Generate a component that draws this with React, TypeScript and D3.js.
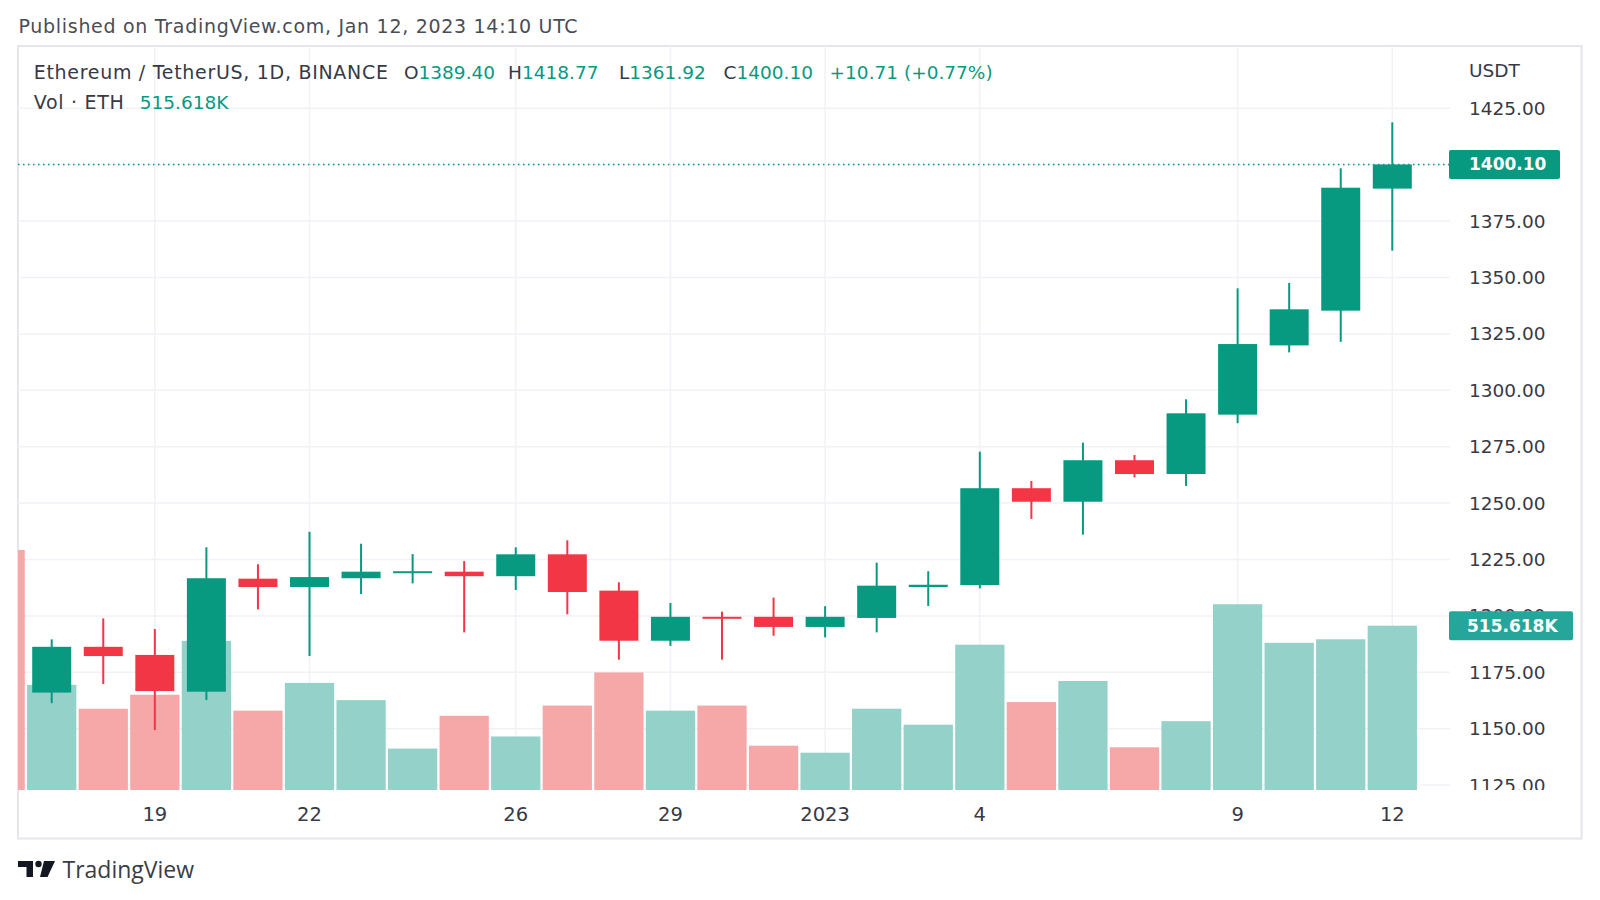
import React from 'react';
import * as d3 from 'd3';

// Daily ETH/USDT candles, Binance, Dec 17 2022 - Jan 12 2023
const dates = [
  '2022-12-17', '2022-12-18', '2022-12-19', '2022-12-20', '2022-12-21', '2022-12-22',
  '2022-12-23', '2022-12-24', '2022-12-25', '2022-12-26', '2022-12-27', '2022-12-28',
  '2022-12-29', '2022-12-30', '2022-12-31', '2023-01-01', '2023-01-02', '2023-01-03',
  '2023-01-04', '2023-01-05', '2023-01-06', '2023-01-07', '2023-01-08', '2023-01-09',
  '2023-01-10', '2023-01-11', '2023-01-12',
];
const opens = [
  1166.0, 1186.3, 1182.7, 1166.4, 1216.5, 1212.8, 1216.7, 1219.0, 1219.6, 1217.6, 1227.3, 1211.2,
  1189.0, 1199.6, 1199.6, 1195.1, 1199.1, 1212.8, 1213.7, 1256.6, 1250.6, 1269.0, 1262.9, 1289.2,
  1319.9, 1335.3, 1389.4,
];
const highs = [
  1189.6, 1198.9, 1194.2, 1230.4, 1222.9, 1237.3, 1232.0, 1227.4, 1224.3, 1230.4, 1233.5, 1214.9,
  1205.7, 1201.9, 1208.1, 1204.3, 1223.6, 1219.8, 1272.8, 1259.8, 1276.8, 1271.3, 1296.0, 1345.2,
  1347.6, 1398.4, 1418.77,
];
const lows = [
  1161.3, 1169.8, 1149.4, 1162.7, 1202.9, 1182.2, 1209.7, 1214.4, 1192.7, 1211.5, 1200.7, 1180.6,
  1186.7, 1180.6, 1191.2, 1190.5, 1192.7, 1204.4, 1212.2, 1243.0, 1236.0, 1261.4, 1257.6, 1285.4,
  1316.8, 1321.5, 1361.92,
];
const closes = [
  1186.3, 1182.2, 1166.7, 1216.7, 1212.8, 1217.2, 1219.6, 1219.8, 1217.6, 1227.3, 1210.6, 1189.0,
  1199.6, 1198.9, 1195.1, 1199.6, 1213.4, 1213.8, 1256.6, 1250.6, 1269.0, 1262.9, 1289.8, 1320.5,
  1335.9, 1389.8, 1400.1,
];
// volume in thousands of ETH
const volumes = [
  330, 255, 299, 468, 249, 336, 282, 130, 233, 168, 265, 369,
  249, 265, 139, 117, 255, 205, 456, 276, 342, 134, 216, 583,
  462, 473, 515.618,
];
// the day before, only its volume bar peeks in at the left edge
const partialDate = '2022-12-16';
const partialVolume = 753;

const priceTicks = [1125, 1150, 1175, 1200, 1225, 1250, 1275, 1300, 1325, 1350, 1375, 1400, 1425];
const timeTicks = ['2022-12-19', '2022-12-22', '2022-12-26', '2022-12-29', '2023-01-01', '2023-01-04', '2023-01-09', '2023-01-12'];

const UP = '#089981';
const DOWN = '#f23645';
const UP_VOL = '#93d1c9';
const DOWN_VOL = '#f6a8a8';
const TEXT = '#363a45';
const GRID = '#f0f2f6';
const FONT = "'DejaVu Sans', sans-serif";

const W = 1600;
const H = 900;
const plot = { left: 18, top: 46, right: 1450, bottom: 790 };

const parse = (s: string) => new Date(s + 'T00:00:00Z');

export default function App() {
  const x = d3.scaleUtc()
    .domain([parse(dates[0]), parse(dates[dates.length - 1])])
    .range([51.7, 1392.3]);
  const step = x(parse(dates[1])) - x(parse(dates[0]));
  const bodyW = 39;
  const volW = step - 2.3;

  const y = d3.scaleLinear().domain([1125, 1425]).range([785.1, 108.3]);
  const v = d3.scaleLinear().domain([0, 515.618]).range([plot.bottom, 625.7]);

  const candles = dates.map((d, i) => ({
    date: parse(d), o: opens[i], h: highs[i], l: lows[i], c: closes[i], vol: volumes[i],
  }));
  const last = candles[candles.length - 1];

  const fmtTick = (d: Date) => (d.getUTCMonth() === 0 && d.getUTCDate() === 1 ? d3.utcFormat('%Y')(d) : d3.utcFormat('%-d')(d));

  return (
    <svg width={W} height={H} viewBox={`0 0 ${W} ${H}`} style={{ position: 'absolute', left: 0, top: 0, background: '#fff' }}>
      <defs>
        <clipPath id="plotClip">
          <rect x={plot.left} y={plot.top} width={plot.right - plot.left} height={plot.bottom - plot.top} />
        </clipPath>
        <clipPath id="axisClip">
          <rect x={plot.right} y={plot.top} width={W - plot.right} height={plot.bottom - plot.top} />
        </clipPath>
      </defs>

      <text x={18.5} y={25.5} dominantBaseline="central" fontFamily={FONT} fontSize={19} letterSpacing={0.7} fill="#4a4d55">
        Published on TradingView.com, Jan 12, 2023 14:10 UTC
      </text>

      {/* chart frame */}
      <rect x={plot.left} y={plot.top} width={1581.5 - plot.left} height={838.5 - plot.top} fill="#fff" stroke="#e4e6eb" strokeWidth={2} />

      <g clipPath="url(#plotClip)">
        {priceTicks.map(t => (
          <line key={'h' + t} x1={plot.left} x2={plot.right} y1={y(t)} y2={y(t)} stroke={GRID} strokeWidth={1.5} />
        ))}
        {timeTicks.map(t => (
          <line key={'v' + t} x1={x(parse(t))} x2={x(parse(t))} y1={plot.top} y2={plot.bottom} stroke={GRID} strokeWidth={1.5} />
        ))}

        {/* volume */}
        <rect x={x(parse(partialDate)) - volW / 2} y={v(partialVolume)} width={volW} height={plot.bottom - v(partialVolume)} fill={DOWN_VOL} />
        {candles.map((d, i) => (
          <rect key={'vol' + i} x={x(d.date) - volW / 2} y={v(d.vol)} width={volW} height={plot.bottom - v(d.vol)}
            fill={d.c >= d.o ? UP_VOL : DOWN_VOL} />
        ))}

        {/* last price line */}
        <line x1={plot.left} x2={plot.right} y1={y(last.c)} y2={y(last.c)} stroke={UP} strokeWidth={1.5} strokeDasharray="1.5 3.5" />

        {/* candles */}
        {candles.map((d, i) => {
          const col = d.c >= d.o ? UP : DOWN;
          const cx = x(d.date);
          const top = y(Math.max(d.o, d.c));
          const bot = y(Math.min(d.o, d.c));
          return (
            <g key={'c' + i}>
              <rect x={cx - 1} y={y(d.h)} width={2} height={y(d.l) - y(d.h)} fill={col} />
              <rect x={cx - bodyW / 2} y={top} width={bodyW} height={Math.max(bot - top, 2)} fill={col} />
            </g>
          );
        })}
      </g>

      {/* legend */}
      <g fontFamily={FONT} fontSize={18.5} dominantBaseline="central">
        <text x={33.7} y={72.4} fill={TEXT} fontSize={19} letterSpacing={0.7}>Ethereum / TetherUS, 1D, BINANCE</text>
        <text x={404} y={72.4} fill={TEXT}>O<tspan fill={UP}>{last.o.toFixed(2)}</tspan></text>
        <text x={508} y={72.4} fill={TEXT}>H<tspan fill={UP}>{last.h.toFixed(2)}</tspan></text>
        <text x={619} y={72.4} fill={TEXT}>L<tspan fill={UP}>{last.l.toFixed(2)}</tspan></text>
        <text x={723.5} y={72.4} fill={TEXT}>C<tspan fill={UP}>{last.c.toFixed(2)}</tspan></text>
        <text x={829.6} y={72.4} fill={UP}>+10.71 (+0.77%)</text>
        <text x={33.7} y={102} fill={TEXT} fontSize={19} letterSpacing={0.7}>Vol · ETH</text>
        <text x={139.8} y={102} fill={UP}>{last.vol.toFixed(3)}K</text>
      </g>

      {/* price axis */}
      <g fontFamily={FONT} fontSize={18.5} fill={TEXT} dominantBaseline="central">
        <text x={1469} y={70.7}>USDT</text>
        <g clipPath="url(#axisClip)">
          {priceTicks.map(t => (
            <text key={'pt' + t} x={1469} y={y(t)}>{d3.format('.2f')(t)}</text>
          ))}
        </g>
        <rect x={1449} y={y(last.c) - 14.5} width={111} height={29} rx={2} fill={UP} />
        <text x={1469} y={y(last.c)} fill="#fff" fontWeight="bold" fontSize={17}>{last.c.toFixed(2)}</text>
        <rect x={1449} y={v(last.vol) - 14.5} width={124} height={29} rx={2} fill="#26a69a" />
        <text x={1467} y={v(last.vol)} fill="#fff" fontWeight="bold" fontSize={17}>{last.vol.toFixed(3)}K</text>
      </g>

      {/* time axis */}
      <g fontFamily={FONT} fontSize={19.5} fill={TEXT} textAnchor="middle" dominantBaseline="central">
        {timeTicks.map(t => (
          <text key={'tt' + t} x={x(parse(t))} y={814}>{fmtTick(parse(t))}</text>
        ))}
      </g>

      {/* logo */}
      <g fill="#131722">
        <path d="M18,861 H33 V877 H26.5 V867 H18 Z" />
        <circle cx={38.5} cy={864} r={3.2} />
        <path d="M44,861 H55 L47.5,877 H40 Z" />
      </g>
      <text x={62.5} y={868.5} dominantBaseline="central" fontFamily="'Open Sans', sans-serif" fontSize={23} fill="#3a3d45">TradingView</text>
    </svg>
  );
}
